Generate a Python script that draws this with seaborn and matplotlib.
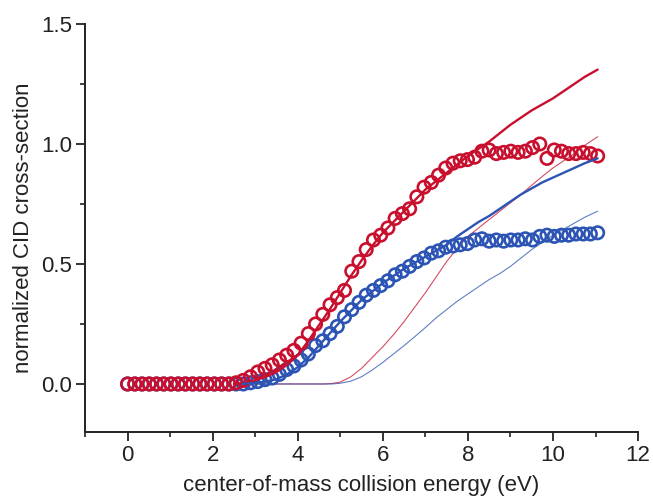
import numpy as np
import pandas as pd
import matplotlib
matplotlib.use("Agg")
import matplotlib.pyplot as plt
from matplotlib.ticker import MultipleLocator, FormatStrFormatter
import seaborn as sns

# ─────────────────────────────────────────────
# Data
# ─────────────────────────────────────────────
energy = [0.00, 0.17, 0.34, 0.51, 0.68, 0.85, 1.02, 1.19, 1.36, 1.53, 1.70,
          1.87, 2.04, 2.21, 2.38, 2.55, 2.72, 2.89, 3.06, 3.23, 3.40, 3.57,
          3.74, 3.91, 4.08, 4.25, 4.42, 4.59, 4.76, 4.93, 5.10, 5.27, 5.44,
          5.61, 5.78, 5.95, 6.12, 6.29, 6.46, 6.63, 6.80, 6.97, 7.14, 7.31,
          7.48, 7.65, 7.82, 7.99, 8.16, 8.33, 8.50, 8.67, 8.84, 9.01, 9.18,
          9.35, 9.52, 9.69, 9.86, 10.03, 10.20, 10.37, 10.54, 10.71, 10.88, 11.05]

red_data = [0.0, 0.0, 0.0, 0.0, 0.0, 0.0, 0.0, 0.0, 0.0, 0.0, 0.0,
            0.0, 0.0, 0.0, 0.0, 0.005, 0.015, 0.03, 0.05, 0.065, 0.08, 0.10,
            0.12, 0.14, 0.17, 0.21, 0.25, 0.29, 0.33, 0.36, 0.39, 0.47, 0.51,
            0.56, 0.60, 0.62, 0.65, 0.69, 0.71, 0.73, 0.78, 0.82, 0.84, 0.87,
            0.90, 0.92, 0.93, 0.935, 0.945, 0.97, 0.975, 0.96, 0.965, 0.97, 0.965,
            0.97, 0.985, 1.0, 0.94, 0.975, 0.97, 0.96, 0.96, 0.965, 0.96, 0.95]

blue_data = [0.0, 0.0, 0.0, 0.0, 0.0, 0.0, 0.0, 0.0, 0.0, 0.0, 0.0,
             0.0, 0.0, 0.0, 0.0, 0.0, 0.0, 0.005, 0.01, 0.018, 0.025, 0.04,
             0.06, 0.075, 0.10, 0.125, 0.16, 0.18, 0.21, 0.24, 0.28, 0.31, 0.34,
             0.37, 0.39, 0.41, 0.43, 0.455, 0.47, 0.49, 0.51, 0.525, 0.545, 0.555,
             0.57, 0.575, 0.58, 0.585, 0.60, 0.605, 0.595, 0.60, 0.595, 0.60, 0.60,
             0.605, 0.60, 0.615, 0.62, 0.615, 0.62, 0.62, 0.625, 0.625, 0.625, 0.63]

# model curves (thick = convoluted fit, thin = unconvoluted)
red_fit_x = [2.5, 2.75, 3.0, 3.25, 3.5, 3.75, 4.0, 4.25, 4.5, 4.75, 5.0, 5.25,
             5.5, 5.75, 6.0, 6.25, 6.5, 6.75, 7.0, 7.25, 7.5, 7.75, 8.0, 8.25,
             8.5, 8.75, 9.0, 9.25, 9.5, 9.75, 10.0, 10.25, 10.5, 10.75, 11.05]
red_fit_y = [0.0, 0.005, 0.015, 0.03, 0.05, 0.08, 0.12, 0.18, 0.245, 0.31, 0.38,
             0.45, 0.515, 0.575, 0.63, 0.675, 0.72, 0.765, 0.81, 0.845, 0.88,
             0.915, 0.95, 0.98, 1.01, 1.045, 1.08, 1.11, 1.14, 1.165, 1.19,
             1.22, 1.25, 1.28, 1.31]

blue_fit_x = [2.7, 3.0, 3.25, 3.5, 3.75, 4.0, 4.25, 4.5, 4.75, 5.0, 5.25, 5.5,
              5.75, 6.0, 6.25, 6.5, 6.75, 7.0, 7.25, 7.5, 7.75, 8.0, 8.25, 8.5,
              8.75, 9.0, 9.25, 9.5, 9.75, 10.0, 10.25, 10.5, 10.75, 11.05]
blue_fit_y = [0.0, 0.005, 0.01, 0.02, 0.04, 0.07, 0.11, 0.16, 0.21, 0.26, 0.305,
              0.35, 0.385, 0.42, 0.45, 0.48, 0.505, 0.53, 0.555, 0.58, 0.615,
              0.645, 0.675, 0.70, 0.73, 0.76, 0.79, 0.815, 0.84, 0.86, 0.88,
              0.90, 0.92, 0.94]

red_thin_x = [2.5, 4.6, 4.8, 5.0, 5.25, 5.5, 5.75, 6.0, 6.25, 6.5, 6.75, 7.0,
              7.25, 7.5, 7.75, 8.0, 8.25, 8.5, 8.75, 9.0, 9.25, 9.5, 9.75, 10.0,
              10.25, 10.5, 10.75, 11.05]
red_thin_y = [0.0, 0.0, 0.002, 0.008, 0.03, 0.065, 0.11, 0.155, 0.205, 0.26,
              0.32, 0.38, 0.445, 0.51, 0.565, 0.615, 0.65, 0.685, 0.72, 0.755,
              0.79, 0.828, 0.865, 0.90, 0.93, 0.96, 0.995, 1.03]

blue_thin_x = [2.5, 4.8, 5.0, 5.25, 5.5, 5.75, 6.0, 6.25, 6.5, 6.75, 7.0, 7.25,
               7.5, 7.75, 8.0, 8.25, 8.5, 8.75, 9.0, 9.25, 9.5, 9.75, 10.0,
               10.25, 10.5, 10.75, 11.05]
blue_thin_y = [0.0, 0.0, 0.003, 0.012, 0.03, 0.058, 0.09, 0.125, 0.16, 0.197,
               0.235, 0.275, 0.31, 0.345, 0.375, 0.405, 0.435, 0.46, 0.49, 0.525,
               0.56, 0.59, 0.62, 0.645, 0.67, 0.695, 0.72]

RED = "#c8102e"
BLUE = "#2c54b4"
INK = "#222222"

sns.set_theme(style="ticks")
plt.rcParams["font.family"] = ["Liberation Sans", "DejaVu Sans"]

fig = plt.figure(figsize=(6.53, 5.04), dpi=100)
ax = fig.add_axes([0.1302, 0.1429, 0.8469, 0.8095])

# thin curves
sns.lineplot(x=red_thin_x, y=red_thin_y, ax=ax, color=RED, linewidth=0.8,
             alpha=0.75, sort=False)
sns.lineplot(x=blue_thin_x, y=blue_thin_y, ax=ax, color=BLUE, linewidth=0.8,
             alpha=0.75, sort=False)

# data points
sns.scatterplot(x=energy, y=blue_data, ax=ax, marker="o", s=80,
                facecolors="none", edgecolor=BLUE, linewidth=1.9, zorder=3)
sns.scatterplot(x=energy, y=red_data, ax=ax, marker="o", s=80,
                facecolors="none", edgecolor=RED, linewidth=1.9, zorder=3)

# thick fits
sns.lineplot(x=red_fit_x, y=red_fit_y, ax=ax, color=RED, linewidth=1.7,
             sort=False, zorder=4)
sns.lineplot(x=blue_fit_x, y=blue_fit_y, ax=ax, color=BLUE, linewidth=1.7,
             sort=False, zorder=4)

ax.set_xlim(-1, 12)
ax.set_ylim(-0.2, 1.5)
ax.xaxis.set_major_locator(MultipleLocator(2))
ax.xaxis.set_minor_locator(MultipleLocator(1))
ax.yaxis.set_major_locator(MultipleLocator(0.5))
ax.yaxis.set_minor_locator(MultipleLocator(0.25))
ax.yaxis.set_major_formatter(FormatStrFormatter("%.1f"))

for side in ["top", "right"]:
    ax.spines[side].set_visible(False)
for side in ["left", "bottom"]:
    ax.spines[side].set_linewidth(1.4)
    ax.spines[side].set_color(INK)

ax.tick_params(which="major", direction="out", length=6.5, width=1.3,
               color=INK, labelsize=16, labelcolor=INK, pad=3)
ax.tick_params(which="minor", direction="out", length=3.5, width=1.2,
               color=INK)

ax.set_xlabel("center-of-mass collision energy (eV)", fontsize=16,
              color=INK, labelpad=6)
ax.set_ylabel("normalized CID cross-section", fontsize=16,
              color=INK, labelpad=5)

fig.savefig("out.png", dpi=100)
